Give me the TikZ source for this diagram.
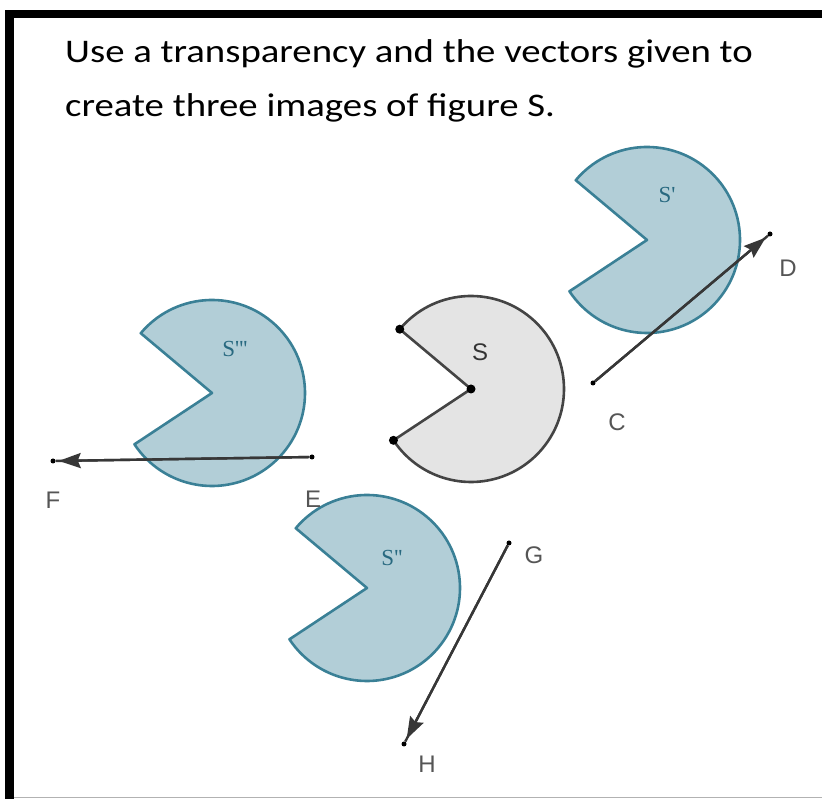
\documentclass[tikz,border=0pt]{standalone}
\usepackage{fontspec}
\setmainfont{Carlito}
\newfontfamily\labfont{Liberation Sans}
\newfontfamily\primefont{Liberation Serif}
\usetikzlibrary{arrows.meta,calc}
\definecolor{tealline}{RGB}{58,128,150}
\definecolor{tealfill}{RGB}{46,122,147}
\definecolor{greyfill}{RGB}{228,228,228}
\definecolor{greyline}{RGB}{68,68,68}
\definecolor{vecline}{RGB}{55,55,55}
\definecolor{labgrey}{RGB}{85,85,85}
\definecolor{primeteal}{RGB}{40,105,128}
\tikzset{
  orig/.style={draw=greyline, fill=greyfill, line width=2.6pt, line join=round},
  image/.style={draw=tealline, fill=tealfill, fill opacity=0.37, line width=2.6pt, line join=round},
  vdot/.style={circle, fill=black, inner sep=0pt, minimum size=5pt},
  sdot/.style={circle, fill=black, inner sep=0pt, minimum size=9pt},
  vline/.style={draw=vecline, line width=2.4pt},
  vhead/.style={draw=vecline, line width=2.4pt, -{Stealth[length=22pt,width=15pt,inset=3pt]}, shorten >=3pt},
  ptlab/.style={font=\labfont\fontsize{24}{24}\selectfont, text=labgrey, inner sep=0pt},
  slab/.style={font=\labfont\fontsize{24}{24}\selectfont, text=black!80, inner sep=0pt},
  plab/.style={font=\primefont\fontsize{23}{23}\selectfont, text=primeteal, inner sep=0pt},
  title/.style={font=\fontsize{33}{33}\selectfont, anchor=base west, inner sep=0pt}
}
\newcommand{\pacman}[2]{%
  \path[#1] (#2) -- ++(140:93) arc[start angle=140, end angle=-146.5, radius=93] -- cycle;}
\begin{document}
\begin{tikzpicture}[x=1pt,y=1pt]
\useasboundingbox (0,0) rectangle (822,799);
% frame
\draw[black!30, line width=1.2pt] (14,1.5) -- (822,1.5);
\draw[black, line width=8.5pt] (9.5,0) -- (9.5,785) -- (830,785);
% title
\node[title] (t1) at (65,736) {\scalebox{1.175}[1]{Use a transparency and the vectors given to}};
\node[title] (t2) at (65,682) {\scalebox{1.175}[1]{create three images of figure S.}};
% vector points
\node[vdot] (C) at (593,416) {};
\node[vdot] (D) at (770,565) {};
\node[vdot] (E) at (312,342) {};
\node[vdot] (F) at (53,338) {};
\node[vdot] (G) at (509,256) {};
\node[vdot] (H) at (404,55) {};
% images
\coordinate (V1) at (647,559);
\coordinate (V2) at (367,211);
\coordinate (V3) at (212,406);
\pacman{image}{V1}
\pacman{image}{V2}
\pacman{image}{V3}
% original
\coordinate (V0) at (471,410);
\pacman{orig}{V0}
\node[sdot] (P0) at (V0) {};
\node[sdot] (P1) at ($(V0)+(140:93)$) {};
\node[sdot] (P2) at ($(V0)+(-146.5:93)$) {};
% vectors
\draw[vline] (C) -- (D);
\draw[vhead] (C) -- (D);
\draw[vline] (E) -- (F);
\draw[vhead] (E) -- (F);
\draw[vline] (G) -- (H);
\draw[vhead] (G) -- (H);
% labels
\node[ptlab] (lC) at (617,377) {C};
\node[ptlab] (lD) at (788,531) {D};
\node[ptlab] (lE) at (313,300) {E};
\node[ptlab] (lF) at (53,299) {F};
\node[ptlab] (lG) at (534,244) {G};
\node[ptlab] (lH) at (427,35) {H};
\node[slab] (lS) at (480,447) {S};
\node[plab] (lS1) at (667,604) {S'};
\node[plab] (lS2) at (392,241) {S''};
\node[plab] (lS3) at (235,450) {S'''};
\end{tikzpicture}
\end{document}
